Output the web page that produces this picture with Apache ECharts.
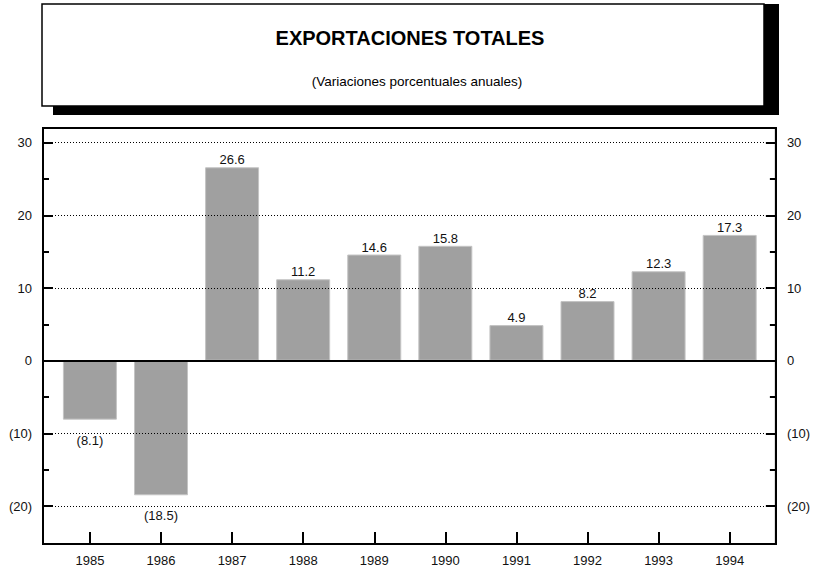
<!DOCTYPE html>
<html>
<head>
<meta charset="utf-8">
<script src="https://cdn.jsdelivr.net/npm/echarts@6/dist/echarts.min.js"></script>
<style>
html,body{margin:0;padding:0;background:#fff;}
#chart{width:813px;height:571px;}
</style>
</head>
<body>
<div id="chart"></div>
<script>
var years = [1985, 1986, 1987, 1988, 1989, 1990, 1991, 1992, 1993, 1994];
var values = [-8.1, -18.5, 26.6, 11.2, 14.6, 15.8, 4.9, 8.2, 12.3, 17.3];
var yLabelValues = [-20, -10, 0, 10, 20, 30];
var yTickValues = [-20, -15, -10, -5, 0, 5, 10, 15, 20, 25, 30];
var gridValues = [-20, -10, 0, 10, 20, 30];
var titleText = 'EXPORTACIONES TOTALES';
var subtitleText = '(Variaciones porcentuales anuales)';

var FONT = '"Liberation Sans", Arial, sans-serif';
var chart = echarts.init(document.getElementById('chart'), null, {renderer: 'svg'});

function fmtY(v) { return v < 0 ? '(' + (-v) + ')' : String(v); }

var barData = years.map(function (y, i) {
  var v = values[i];
  return {
    value: [y, v],
    label: {
      position: v < 0 ? 'bottom' : 'top',
      distance: v < 0 ? 14 : 1
    }
  };
});

var Y_MIN = -25.2, Y_MAX = 32;

function yAxisDef(pos) {
  return {
    type: 'value',
    position: pos,
    min: Y_MIN,
    max: Y_MAX,
    axisLine: {show: true, lineStyle: {color: '#000', width: 2}},
    axisTick: {show: true, inside: true, length: 6, customValues: yTickValues,
               lineStyle: {color: '#000', width: 2}},
    axisLabel: {customValues: yLabelValues, formatter: fmtY, margin: 11,
                color: '#111', fontSize: 13, fontFamily: FONT},
    splitLine: {show: false}
  };
}
function yMajorTickAxis(pos) {
  return {
    type: 'value',
    position: pos,
    min: Y_MIN,
    max: Y_MAX,
    axisLine: {show: false},
    axisTick: {show: true, inside: true, length: 10, customValues: yLabelValues,
               lineStyle: {color: '#000', width: 2}},
    axisLabel: {show: false},
    splitLine: {show: false}
  };
}

var option = {
  animation: false,
  backgroundColor: '#fff',
  grid: {left: 43, right: 36, top: 128, bottom: 27, show: true,
         borderColor: '#000', borderWidth: 2, backgroundColor: 'transparent'},
  graphic: [
    {type: 'rect', shape: {x: 53, y: 4, width: 726, height: 111}, style: {fill: '#000'}, z: 10},
    {type: 'rect', shape: {x: 42, y: 4, width: 722, height: 102}, style: {fill: '#fff', stroke: '#000', lineWidth: 1.5}, z: 11},
    {type: 'text', x: 410, y: 38, z: 12, style: {text: titleText, fill: '#000', font: 'bold 20px ' + FONT, textAlign: 'center', textVerticalAlign: 'middle'}},
    {type: 'text', x: 417, y: 81, z: 12, style: {text: subtitleText, fill: '#000', font: '13.5px ' + FONT, textAlign: 'center', textVerticalAlign: 'middle'}}
  ],
  xAxis: {
    type: 'value',
    min: 1984.34,
    max: 1994.65,
    axisLine: {show: true, onZero: false, lineStyle: {color: '#000', width: 2}},
    axisTick: {show: true, inside: true, length: 12, customValues: years,
               lineStyle: {color: '#000', width: 2}},
    axisLabel: {customValues: years, formatter: function (v) { return String(v); },
                margin: 10, color: '#111', fontSize: 13, fontFamily: FONT},
    splitLine: {show: false}
  },
  yAxis: [yAxisDef('left'), yAxisDef('right'), yMajorTickAxis('left'), yMajorTickAxis('right')],
  series: [
    {
      type: 'line', data: [], z: 1, silent: true,
      markLine: {
        silent: true, symbol: 'none', label: {show: false},
        lineStyle: {color: '#000', width: 1, type: [1, 2]},
        data: gridValues.map(function (v) { return {yAxis: v}; })
      }
    },
    {
      type: 'bar',
      z: 2,
      barWidth: 54,
      data: barData,
      itemStyle: {color: '#a0a0a0', borderColor: '#c4c4c4', borderWidth: 1},
      label: {
        show: true, color: '#111', fontSize: 13, fontFamily: FONT,
        formatter: function (p) { return fmtY(p.value[1]); }
      }
    },
    {
      type: 'line', data: [], z: 3, silent: true,
      markLine: {
        silent: true, symbol: 'none', label: {show: false},
        lineStyle: {color: '#000', width: 2, type: 'solid'},
        data: [{yAxis: 0}]
      }
    }
  ]
};
chart.setOption(option);
</script>
</body>
</html>
